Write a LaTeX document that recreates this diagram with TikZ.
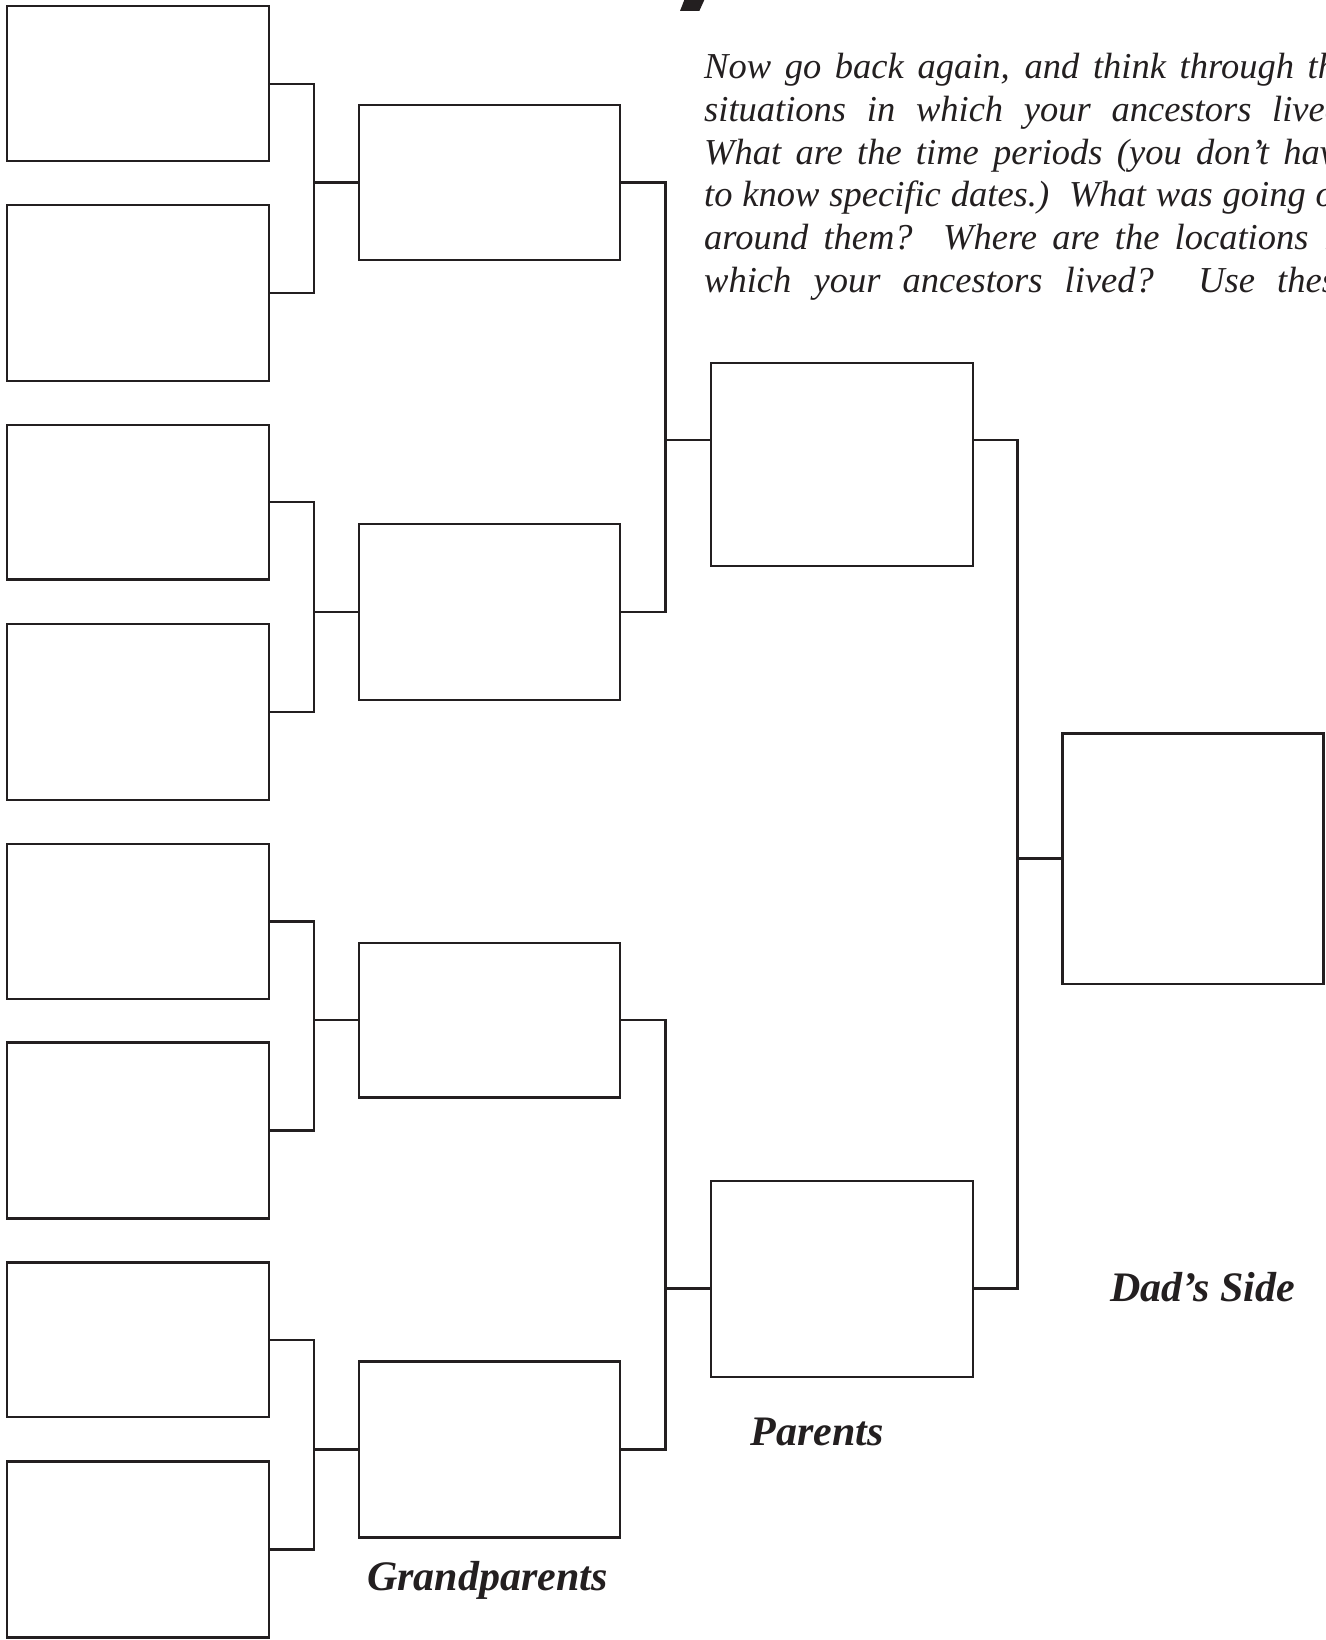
\documentclass[tikz,border=0pt]{standalone}
\usepackage{fontspec}
\setmainfont{Liberation Serif}
\definecolor{ink}{RGB}{35,31,32}
\begin{document}
\begin{tikzpicture}[x=1pt,y=-1pt,
  pbox/.style={draw=ink, line width=2.3pt, rectangle, inner sep=0pt, outer sep=0pt, minimum width=261.5pt},
  smallbox/.style={pbox, minimum height=154.7pt},
  largebox/.style={pbox, minimum height=176pt},
  conn/.style={draw=ink, line width=2.3pt},
  lbl/.style={text=ink, font=\fontsize{42}{48}\selectfont\bfseries\itshape, anchor=base west, inner sep=0pt},
  paraline/.style={text=ink, font=\fontsize{36.5}{42}\selectfont\itshape, anchor=base west, inner sep=0pt}
]
\useasboundingbox (0,0) rectangle (1325,1640);
\fill[white] (0,0) rectangle (1325,1640);

% great-grandparents
\node[smallbox] (g1) at (138,83.7) {};
\node[largebox] (g2) at (138,292.9) {};
\node[smallbox] (g3) at (138,502) {};
\node[largebox] (g4) at (138,711.7) {};
\node[smallbox] (g5) at (138,921.4) {};
\node[largebox] (g6) at (138,1130.5) {};
\node[smallbox] (g7) at (138,1339.7) {};
\node[largebox] (g8) at (138,1549.4) {};

% grandparents
\node[smallbox] (gp1) at (489.5,182.5) {};
\node[largebox] (gp2) at (489.5,611.8) {};
\node[smallbox] (gp3) at (489.5,1020.2) {};
\node[largebox] (gp4) at (489.5,1449.5) {};

% parents
\node[pbox, minimum height=203pt] (p1) at (841.9,464.5) {};
\node[pbox, minimum height=196pt] (p2) at (841.9,1279) {};

% dad
\node[pbox, minimum width=261pt, minimum height=250.5pt] (dad) at (1193,858.8) {};

% junctions
\coordinate (v1) at (313.7,182.5);
\coordinate (v2) at (313.7,611.8);
\coordinate (v3) at (313.7,1020.2);
\coordinate (v4) at (313.7,1449.5);
\coordinate (w1) at (665.5,440);
\coordinate (w2) at (665.5,1288.5);
\coordinate (u1) at (1017.6,858.6);

\draw[conn] (g1.east) -| (v1) |- (g2.east);
\draw[conn] (v1) -- (gp1.west);
\draw[conn] (g3.east) -| (v2) |- (g4.east);
\draw[conn] (v2) -- (gp2.west);
\draw[conn] (g5.east) -| (v3) |- (g6.east);
\draw[conn] (v3) -- (gp3.west);
\draw[conn] (g7.east) -| (v4) |- (g8.east);
\draw[conn] (v4) -- (gp4.west);

\draw[conn] (gp1.east) -| (w1) |- (gp2.east);
\draw[conn] (w1) -- (p1.west |- w1);
\draw[conn] (gp3.east) -| (w2) |- (gp4.east);
\draw[conn] (w2) -- (p2.west |- w2);

\draw[conn] (p1.east |- w1) -| (u1) |- (p2.east |- w2);
\draw[conn] (u1) -- (dad.west |- u1);

% fragment of title letter
\fill[ink] (684.3,0) -- (704.3,0) -- (699.3,11) -- (680,11) -- cycle;

% labels
\node[lbl] (lg) at (367,1590) {Grandparents};
\node[lbl] (lp) at (750.5,1445) {Parents};
\node[lbl] (ld) at (1110,1301) {Dad’s Side};

% paragraph (clipped at the page edge, as in the reference)
\begin{scope}
\clip (0,0) rectangle (1325,1640);
\node[paraline] (t1) at (704,79) {\hbox to 648pt{Now go back again, and think through the}};
\node[paraline] (t2) at (704,121.6) {\hbox to 648pt{situations in which your ancestors lived.}};
\node[paraline] (t3) at (704,164.2) {\hbox to 648pt{What are the time periods (you don’t have}};
\node[paraline] (t4) at (704,206.8) {\hbox to 648pt{to know specific dates.)\ \ What was going on}};
\node[paraline] (t5) at (704,249.4) {\hbox to 648pt{around them?\ \ Where are the locations in}};
\node[paraline] (t6) at (704,292) {\hbox to 648pt{which your ancestors lived?\ \ Use these}};
\end{scope}
\end{tikzpicture}
\end{document}
